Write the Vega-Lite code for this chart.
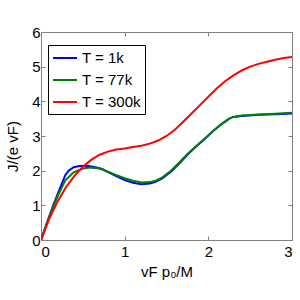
{
  "$schema": "https://vega.github.io/schema/vega-lite/v6.json",
  "autosize": "none",
  "width": 251,
  "height": 208,
  "padding": {"left": 41, "top": 32, "right": 8, "bottom": 60},
  "config": {
    "view": {"stroke": "#808080", "strokeWidth": 1},
    "font": "Liberation Sans",
    "axis": {"grid": false, "domain": false, "tickColor": "#808080", "tickSize": -4, "labelColor": "black", "labelFontSize": 15, "titleFontSize": 15, "titleFontWeight": "normal", "titleColor": "black", "labelFont": "Liberation Sans", "titleFont": "Liberation Sans"}
  },
  "data": {"values": [
    {"T": "T = 1k", "x": 0, "y": 0},
    {"T": "T = 1k", "x": 0.05, "y": 0.35},
    {"T": "T = 1k", "x": 0.1, "y": 0.69},
    {"T": "T = 1k", "x": 0.15, "y": 1.02},
    {"T": "T = 1k", "x": 0.2, "y": 1.33},
    {"T": "T = 1k", "x": 0.25, "y": 1.63},
    {"T": "T = 1k", "x": 0.29, "y": 1.87},
    {"T": "T = 1k", "x": 0.33, "y": 2.0},
    {"T": "T = 1k", "x": 0.39, "y": 2.1},
    {"T": "T = 1k", "x": 0.46, "y": 2.135},
    {"T": "T = 1k", "x": 0.55, "y": 2.14},
    {"T": "T = 1k", "x": 0.65, "y": 2.1},
    {"T": "T = 1k", "x": 0.73, "y": 2.05},
    {"T": "T = 1k", "x": 0.82, "y": 1.94},
    {"T": "T = 1k", "x": 0.9, "y": 1.84},
    {"T": "T = 1k", "x": 1.0, "y": 1.73},
    {"T": "T = 1k", "x": 1.1, "y": 1.65},
    {"T": "T = 1k", "x": 1.2, "y": 1.61},
    {"T": "T = 1k", "x": 1.3, "y": 1.63},
    {"T": "T = 1k", "x": 1.37, "y": 1.68},
    {"T": "T = 1k", "x": 1.44, "y": 1.76},
    {"T": "T = 1k", "x": 1.55, "y": 1.96},
    {"T": "T = 1k", "x": 1.65, "y": 2.2},
    {"T": "T = 1k", "x": 1.75, "y": 2.46},
    {"T": "T = 1k", "x": 1.85, "y": 2.69},
    {"T": "T = 1k", "x": 1.95, "y": 2.9},
    {"T": "T = 1k", "x": 2.05, "y": 3.13},
    {"T": "T = 1k", "x": 2.15, "y": 3.33},
    {"T": "T = 1k", "x": 2.25, "y": 3.5},
    {"T": "T = 1k", "x": 2.3, "y": 3.55},
    {"T": "T = 1k", "x": 2.4, "y": 3.58},
    {"T": "T = 1k", "x": 2.6, "y": 3.61},
    {"T": "T = 1k", "x": 2.8, "y": 3.63},
    {"T": "T = 1k", "x": 3.0, "y": 3.65},
    {"T": "T = 77k", "x": 0, "y": 0},
    {"T": "T = 77k", "x": 0.1, "y": 0.68},
    {"T": "T = 77k", "x": 0.2, "y": 1.27},
    {"T": "T = 77k", "x": 0.29, "y": 1.72},
    {"T": "T = 77k", "x": 0.39, "y": 1.95},
    {"T": "T = 77k", "x": 0.5, "y": 2.06},
    {"T": "T = 77k", "x": 0.59, "y": 2.09},
    {"T": "T = 77k", "x": 0.7, "y": 2.06},
    {"T": "T = 77k", "x": 0.82, "y": 1.95},
    {"T": "T = 77k", "x": 0.9, "y": 1.87},
    {"T": "T = 77k", "x": 1.0, "y": 1.78},
    {"T": "T = 77k", "x": 1.1, "y": 1.71},
    {"T": "T = 77k", "x": 1.2, "y": 1.66},
    {"T": "T = 77k", "x": 1.3, "y": 1.67},
    {"T": "T = 77k", "x": 1.37, "y": 1.71},
    {"T": "T = 77k", "x": 1.44, "y": 1.79},
    {"T": "T = 77k", "x": 1.55, "y": 1.99},
    {"T": "T = 77k", "x": 1.65, "y": 2.23},
    {"T": "T = 77k", "x": 1.75, "y": 2.48},
    {"T": "T = 77k", "x": 1.85, "y": 2.7},
    {"T": "T = 77k", "x": 1.95, "y": 2.91},
    {"T": "T = 77k", "x": 2.05, "y": 3.13},
    {"T": "T = 77k", "x": 2.15, "y": 3.33},
    {"T": "T = 77k", "x": 2.25, "y": 3.5},
    {"T": "T = 77k", "x": 2.3, "y": 3.55},
    {"T": "T = 77k", "x": 2.4, "y": 3.59},
    {"T": "T = 77k", "x": 2.6, "y": 3.62},
    {"T": "T = 77k", "x": 2.8, "y": 3.64},
    {"T": "T = 77k", "x": 3.0, "y": 3.67},
    {"T": "T = 300k", "x": 0, "y": 0},
    {"T": "T = 300k", "x": 0.1, "y": 0.62},
    {"T": "T = 300k", "x": 0.2, "y": 1.12},
    {"T": "T = 300k", "x": 0.3, "y": 1.53},
    {"T": "T = 300k", "x": 0.4, "y": 1.85},
    {"T": "T = 300k", "x": 0.5, "y": 2.11},
    {"T": "T = 300k", "x": 0.6, "y": 2.31},
    {"T": "T = 300k", "x": 0.7, "y": 2.46},
    {"T": "T = 300k", "x": 0.8, "y": 2.55},
    {"T": "T = 300k", "x": 0.9, "y": 2.61},
    {"T": "T = 300k", "x": 1.0, "y": 2.64},
    {"T": "T = 300k", "x": 1.1, "y": 2.68},
    {"T": "T = 300k", "x": 1.2, "y": 2.72},
    {"T": "T = 300k", "x": 1.3, "y": 2.78},
    {"T": "T = 300k", "x": 1.4, "y": 2.87},
    {"T": "T = 300k", "x": 1.5, "y": 3.0},
    {"T": "T = 300k", "x": 1.6, "y": 3.18},
    {"T": "T = 300k", "x": 1.7, "y": 3.41},
    {"T": "T = 300k", "x": 1.8, "y": 3.65},
    {"T": "T = 300k", "x": 1.9, "y": 3.89},
    {"T": "T = 300k", "x": 2.0, "y": 4.13},
    {"T": "T = 300k", "x": 2.1, "y": 4.37},
    {"T": "T = 300k", "x": 2.2, "y": 4.58},
    {"T": "T = 300k", "x": 2.3, "y": 4.75},
    {"T": "T = 300k", "x": 2.4, "y": 4.89},
    {"T": "T = 300k", "x": 2.5, "y": 5.0},
    {"T": "T = 300k", "x": 2.6, "y": 5.08},
    {"T": "T = 300k", "x": 2.7, "y": 5.14},
    {"T": "T = 300k", "x": 2.8, "y": 5.2},
    {"T": "T = 300k", "x": 2.9, "y": 5.25},
    {"T": "T = 300k", "x": 3.0, "y": 5.28}
  ]},
  "layer": [
    {
      "mark": {"type": "line", "strokeWidth": 2, "clip": true},
      "encoding": {
        "x": {"field": "x", "type": "quantitative", "scale": {"domain": [0, 3], "nice": false}, "axis": {"values": [0, 1, 2, 3], "title": "vF p₀/M", "labelPadding": 8, "titlePadding": 5}},
        "y": {"field": "y", "type": "quantitative", "scale": {"domain": [0, 6], "nice": false}, "axis": {"values": [0, 1, 2, 3, 4, 5, 6], "title": "J/(e vF)", "labelPadding": 5, "titlePadding": 11, "titleY": 114}},
        "color": {"field": "T", "type": "nominal", "scale": {"domain": ["T = 1k", "T = 77k", "T = 300k"], "range": ["#0000ff", "#008000", "#ff0000"]},
          "legend": {"title": null, "orient": "none", "legendX": 7, "legendY": 13, "strokeColor": "black", "fillColor": "white", "padding": 4, "cornerRadius": 0, "labelFontSize": 15, "labelFont": "Liberation Sans", "labelColor": "black", "symbolType": "M-1,0H2", "symbolSize": 256, "symbolStrokeWidth": 2, "labelOffset": 12, "rowPadding": 5}}
      }
    },
    {
      "mark": {"type": "line", "opacity": 0},
      "encoding": {
        "x": {"field": "x", "type": "quantitative", "axis": {"orient": "top", "values": [0, 1, 2, 3], "labels": false, "title": null}},
        "y": {"field": "y", "type": "quantitative", "axis": {"orient": "right", "values": [0, 1, 2, 3, 4, 5, 6], "labels": false, "title": null}},
        "detail": {"field": "T"}
      }
    }
  ],
  "resolve": {"axis": {"x": "independent", "y": "independent"}}
}
